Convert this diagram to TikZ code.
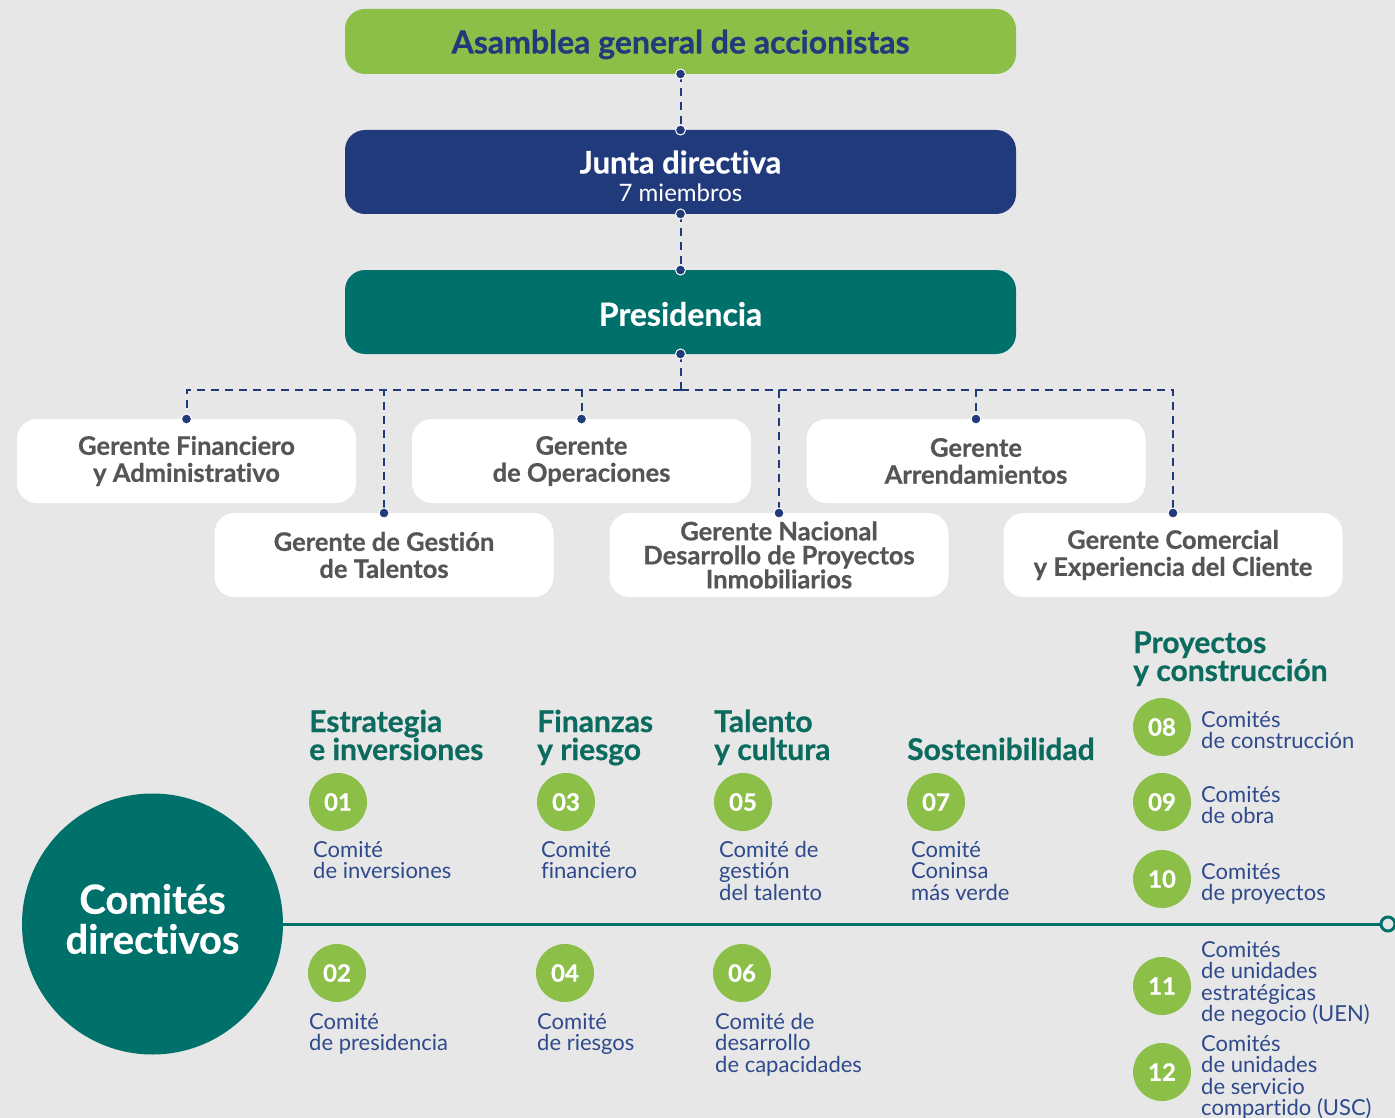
\documentclass[tikz,border=0pt]{standalone}
\usepackage{fontspec}
\setmainfont{Lato}[Ligatures=NoCommon, BoldFeatures={FakeBold=0.6}]
\definecolor{bgc}{HTML}{E7E7E7}
\definecolor{grn}{HTML}{8BBF47}
\definecolor{navy}{HTML}{213A7B}
\definecolor{teal}{HTML}{00716A}
\definecolor{txtgray}{HTML}{555555}
\definecolor{lblue}{HTML}{2E4A8C}
\definecolor{hteal}{HTML}{0B6B5E}
\begin{document}
\begin{tikzpicture}[x=1pt,y=-1pt,
  topbox/.style={rounded corners=20pt, minimum width=671pt, minimum height=65pt, inner sep=0pt, outer sep=0pt, align=center},
  gbox/.style={rounded corners=20pt, fill=white, minimum width=339pt, minimum height=84pt, inner sep=0pt, outer sep=0pt, align=center, text=txtgray, font=\bfseries\fontsize{25.5}{27}\selectfont},
  dashln/.style={draw=navy, line width=2pt, dash pattern=on 8pt off 6pt},
  dotc/.style={circle, fill=navy, draw=white, line width=1pt, inner sep=0pt, minimum size=10pt},
  num/.style={circle, fill=grn, minimum size=58pt, inner sep=0pt, text=white, font=\bfseries\fontsize{24}{24}\selectfont},
  lbl/.style={anchor=base west, align=left, inner sep=0pt, text=lblue, font=\fontsize{22}{21.5}\selectfont},
  head/.style={anchor=base west, align=left, inner sep=0pt, text=hteal, font=\bfseries\fontsize{30}{28}\selectfont}
]
\useasboundingbox (0,0) rectangle (1395,1118);
\fill[bgc] (0,0) rectangle (1395,1118);

% top boxes
\node[topbox, fill=grn, text=navy, font=\bfseries\fontsize{32}{32}\selectfont] (asam) at (680.5,41.5) {\raisebox{-3pt}[\height][\depth]{Asamblea general de accionistas}};
\node[topbox, fill=navy, text=white, minimum height=84pt, font=\fontsize{24}{30}\selectfont] (junta) at (680.5,172) {\raisebox{-4pt}[\height][\depth]{\bfseries\fontsize{31}{30}\selectfont Junta directiva}\\[-2pt]\raisebox{-4pt}[\height][\depth]{\fontsize{24}{30}\selectfont 7 miembros}};
\node[topbox, fill=teal, text=white, minimum height=84pt, font=\bfseries\fontsize{32}{32}\selectfont] (pres) at (680.5,312) {\raisebox{-2pt}[\height][\depth]{Presidencia}};

% gerentes
\node[gbox] (fin) at (186.5,461) {Gerente Financiero\\y Administrativo};
\node[gbox] (ope) at (581.5,461) {Gerente\\de Operaciones};
\node[gbox] (arr) at (976,461) {Gerente\\Arrendamientos};
\node[gbox] (tal) at (384,555) {Gerente de Gestión\\de Talentos};
\node[gbox, font=\bfseries\fontsize{25.5}{24}\selectfont] (nac) at (779,555) {Gerente Nacional\\Desarrollo de Proyectos\\Inmobiliarios};
\node[gbox] (com) at (1173,555) {Gerente Comercial\\y Experiencia del Cliente};

% connectors
\coordinate (hub) at (680.5,390);
\draw[dashln] (asam.south) -- (junta.north);
\draw[dashln] (junta.south) -- (pres.north);
\draw[dashln] (pres.south) -- (hub);
\foreach \g in {fin,ope,arr,tal,nac,com}{
  \draw[dashln] (hub) -| (\g.north);
}
\node[dotc] (d1) at (asam.south) {};
\node[dotc] (d2) at (junta.north) {};
\node[dotc] (d3) at (junta.south) {};
\node[dotc] (d4) at (pres.north) {};
\node[dotc] (d5) at (pres.south) {};
\foreach \g in {fin,ope,arr,tal,nac,com}{
  \node[dotc] (dot\g) at (\g.north) {};
}

% comites directivos
\node[circle, fill=teal, minimum size=261pt, inner sep=0pt, text=white, align=center, font=\bfseries\fontsize{40}{40}\selectfont] (cd) at (152.5,924) {\raisebox{5pt}[\height][\depth]{Comités}\\\raisebox{5pt}[\height][\depth]{directivos}};
\node[circle, draw=teal, fill=bgc, line width=3pt, minimum size=14pt, inner sep=0pt] (endc) at (1388,924) {};
\draw[teal, line width=3pt] (cd.east) -- (endc.west);

% headings (position = baseline of last line)
\node[head] (h1) at (309,760) {Estrategia\\e inversiones};
\node[head] (h2) at (537,760) {Finanzas\\y riesgo};
\node[head] (h3) at (714,760) {Talento\\y cultura};
\node[head] (h4) at (907,760) {Sostenibilidad};
\node[head] (h5) at (1133,681) {Proyectos\\y construcción};

% numbers
\node[num] (n01) at (338,802) {01};
\node[num] (n03) at (566,802) {03};
\node[num] (n05) at (743,802) {05};
\node[num] (n07) at (936,802) {07};
\node[num] (n02) at (337,973) {02};
\node[num] (n04) at (565,973) {04};
\node[num] (n06) at (742,973) {06};
\node[num] (n08) at (1162,727) {08};
\node[num] (n09) at (1162,802) {09};
\node[num] (n10) at (1162,879) {10};
\node[num] (n11) at (1162,986) {11};
\node[num] (n12) at (1162,1072) {12};

% labels (position = baseline of last line)
\node[lbl] (l01) at (313,878.5) {Comité\\de inversiones};
\node[lbl] (l03) at (541,878.5) {Comité\\financiero};
\node[lbl] (l05) at (719,900) {Comité de\\gestión\\del talento};
\node[lbl] (l07) at (911,900) {Comité\\Coninsa\\más verde};
\node[lbl] (l02) at (309,1050.5) {Comité\\de presidencia};
\node[lbl] (l04) at (537,1050.5) {Comité\\de riesgos};
\node[lbl] (l06) at (715,1072) {Comité de\\desarrollo\\de capacidades};
\node[lbl] (l08) at (1201,748.5) {Comités\\de construcción};
\node[lbl] (l09) at (1201,823.5) {Comités\\de obra};
\node[lbl] (l10) at (1201,900.5) {Comités\\de proyectos};
\node[lbl] (l11) at (1201,1021.5) {Comités\\de unidades\\estratégicas\\de negocio (UEN)};
\node[lbl] (l12) at (1201,1115.5) {Comités\\de unidades\\de servicio\\compartido (USC)};
\end{tikzpicture}
\end{document}
